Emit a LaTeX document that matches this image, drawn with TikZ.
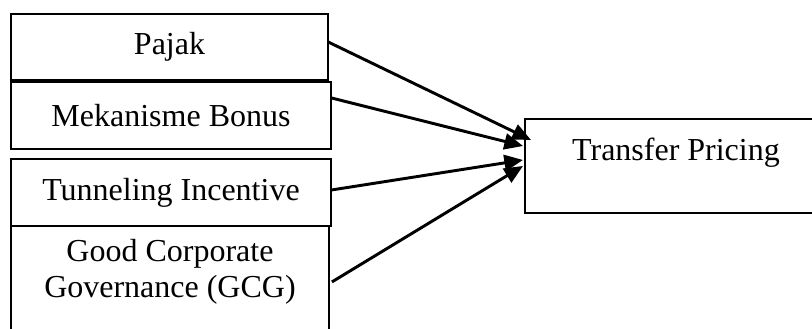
\documentclass[tikz,border=0pt]{standalone}
\usepackage{fontspec}
\setmainfont{Liberation Serif}
\usetikzlibrary{arrows.meta}
\tikzset{box/.style={draw,line width=.75pt,inner sep=0pt,outer sep=0pt},
link/.style={-{Triangle[length=7pt,width=6pt]},line width=1.1pt},
label/.style={font=\fontsize{12}{13.5}\selectfont,align=center,inner sep=0pt}}

\begin{document}
\begin{tikzpicture}[x=.375pt,y=-.375pt]
\useasboundingbox (0,0) rectangle (812,329);
\clip (0,0) rectangle (812,329);
% left column
\node[box,label,minimum width=118.9pt,minimum height=24.75pt,anchor=north west] (pajak) at (11,14) {Pajak};
\node[box,label,minimum width=120pt,minimum height=25.1pt,anchor=north west] (bonus) at (11,82) {Mekanisme Bonus};
\node[box,label,minimum width=120pt,minimum height=25.1pt,anchor=north west] (tunnel) at (11,159) {Tunneling Incentive};
\node[box,minimum width=119.25pt,minimum height=42.75pt,anchor=north west] (gcg) at (11,226) {};
\node[label] (gcgtext) at (170,272) {Good Corporate\\Governance (GCG)};
% dependent variable
\node[box,minimum width=109.1pt,minimum height=35.25pt,anchor=north west] (tp) at (525,119) {};
\node[label] (tptext) at (676,153) {Transfer Pricing};
% arrows
\draw[link] ([yshift=1.9pt]pajak.east) -- ([xshift=2.25pt,yshift=9.75pt]tp.west);
\draw[link] ([yshift=6.6pt]bonus.east) -- ([xshift=-.75pt,yshift=7.5pt]tp.west);
\draw[link] ([yshift=.9pt]tunnel.east) -- ([xshift=-.75pt,yshift=2.25pt]tp.west);
\draw[link] ([xshift=1.1pt,yshift=.4pt]gcg.east) -- ([xshift=-.75pt]tp.west);
\end{tikzpicture}
\end{document}
